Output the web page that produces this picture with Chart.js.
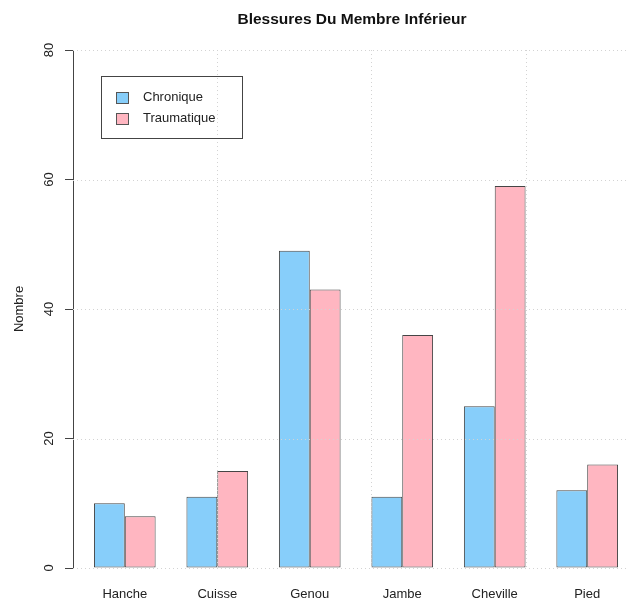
<!DOCTYPE html>
<html>
<head>
<meta charset="utf-8">
<script src="https://cdn.jsdelivr.net/npm/chart.js@4"></script>
<style>
  html, body { margin: 0; padding: 0; background: #fff; overflow: hidden; }
  #wrap { width: 645px; height: 601px; }
</style>
</head>
<body>
<div id="wrap"><canvas id="blessuresChart"></canvas></div>
<script>
// data
const categories = ["Hanche", "Cuisse", "Genou", "Jambe", "Cheville", "Pied"];
const chronique = [10, 11, 49, 11, 25, 12];
const traumatique = [8, 15, 43, 36, 59, 16];
const yTicks = [0, 20, 40, 60, 80];
const xGridUnits = [5, 10, 15];   // vertical grid, in R bar units (bars at 1..18)
const titleText = "Blessures Du Membre Inférieur";
const yTitle = "Nombre";

const FONT = "'Liberation Sans', Arial, Helvetica, sans-serif";
Chart.defaults.font.family = FONT;

// R-like x range: bars span from -1/3 to n-1+1/3 (in category index), plus 4% each side
const n = categories.length;
const barLo = -1 / 3, barHi = n - 1 + 1 / 3;
const ext = (barHi - barLo) * 0.04;
const unitToIndex = u => (u - 2) / 3;

// --------------------
// grid, title, rotated y labels, legend
// --------------------
const rStyle = {
    id: "rStyle",
    afterDatasetsDraw(chart) {
        const { ctx, chartArea: a, scales: { x, y } } = chart;
        ctx.save();
        ctx.strokeStyle = "#d3d3d3";
        ctx.lineWidth = 1;
        ctx.setLineDash([1, 3]);
        yTicks.forEach(v => {
            const py = Math.round(y.getPixelForValue(v)) + 0.5;
            ctx.beginPath();
            ctx.moveTo(a.left, py);
            ctx.lineTo(a.right, py);
            ctx.stroke();
        });
        xGridUnits.forEach(u => {
            const px = Math.round(x.getPixelForValue(unitToIndex(u))) + 0.5;
            ctx.beginPath();
            ctx.moveTo(px, a.top);
            ctx.lineTo(px, a.bottom);
            ctx.stroke();
        });
        ctx.restore();
    },
    afterDraw(chart) {
        const { ctx, chartArea: a, scales: { y } } = chart;
        ctx.save();

        // title
        ctx.fillStyle = "#111";
        ctx.font = "bold 15.5px " + FONT;
        ctx.textAlign = "center";
        ctx.textBaseline = "alphabetic";
        ctx.fillText(titleText, (a.left + a.right) / 2 - 4, 24);

        // y tick labels, parallel to the axis
        ctx.font = "13px " + FONT;
        ctx.fillStyle = "#222";
        ctx.textBaseline = "middle";
        yTicks.forEach(v => {
            ctx.save();
            ctx.translate(a.left - 24, y.getPixelForValue(v));
            ctx.rotate(-Math.PI / 2);
            ctx.fillText(String(v), 0, 0);
            ctx.restore();
        });

        // legend box
        const lx = a.left + 28, ly = a.top + 26;
        ctx.strokeStyle = "#444";
        ctx.lineWidth = 1;
        ctx.strokeRect(lx + 0.5, ly + 0.5, 141, 62);
        ctx.textAlign = "left";
        chart.data.datasets.forEach((ds, i) => {
            const cy = ly + 21 + i * 21;
            ctx.fillStyle = ds.backgroundColor;
            ctx.fillRect(lx + 15, cy - 5, 12, 11);
            ctx.strokeStyle = "#555";
            ctx.strokeRect(lx + 15.5, cy - 4.5, 12, 11);
            ctx.fillStyle = "#222";
            ctx.fillText(ds.label, lx + 42, cy);
        });
        ctx.restore();
    }
};

new Chart(document.getElementById("blessuresChart"), {
    type: "bar",
    data: {
        labels: categories,
        datasets: [
            {
                label: "Chronique",
                data: chronique,
                backgroundColor: "#87cefa",
                borderColor: "#454545",
                borderWidth: 1,
                borderSkipped: false
            },
            {
                label: "Traumatique",
                data: traumatique,
                backgroundColor: "#ffb6c1",
                borderColor: "#454545",
                borderWidth: 1,
                borderSkipped: false
            }
        ]
    },
    options: {
        responsive: true,
        maintainAspectRatio: false,
        animation: false,
        categoryPercentage: 2 / 3,
        barPercentage: 1,
        layout: { padding: { top: 50, right: 6, left: 0, bottom: 0 } },
        plugins: {
            legend: { display: false },
            title: { display: false },
            tooltip: { enabled: false }
        },
        scales: {
            x: {
                afterBuildTicks: s => {
                    s._startValue = barLo - ext;
                    s._valueRange = barHi - barLo + 2 * ext;
                },
                afterFit: s => { s.height = 33; },
                grid: { display: false },
                border: { display: false },
                ticks: {
                    color: "#222",
                    font: { size: 13 },
                    padding: 11,
                    maxRotation: 0,
                    autoSkip: false
                }
            },
            y: {
                min: 0,
                max: 80,
                afterBuildTicks: s => { s.ticks = yTicks.map(v => ({ value: v })); },
                afterFit: s => { s.width = 73; },
                ticks: { display: false },
                grid: {
                    drawOnChartArea: false,
                    drawTicks: true,
                    tickLength: 8,
                    tickColor: "#444"
                },
                border: { display: true, color: "#444", width: 1 },
                title: {
                    display: true,
                    text: yTitle,
                    color: "#222",
                    font: { size: 13 },
                    padding: { top: 12, bottom: 0 }
                }
            }
        }
    },
    plugins: [rStyle]
});
</script>
</body>
</html>
